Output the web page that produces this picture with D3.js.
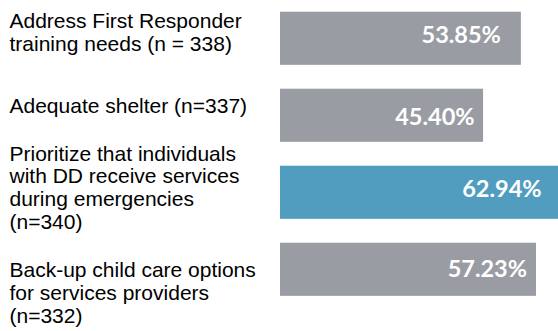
<!DOCTYPE html>
<html>
<head>
<meta charset="utf-8">
<script src="https://cdn.jsdelivr.net/npm/d3@7"></script>
<style>
  html, body { margin: 0; padding: 0; background: #fff; overflow: hidden; }
  svg { display: block; }
</style>
</head>
<body>
<svg id="chart" width="558" height="331"></svg>
<script>
// Survey priorities: share of respondents rating each item
const categories = [
  ["Address First Responder", "training needs (n = 338)"],
  ["Adequate shelter (n=337)"],
  ["Prioritize that individuals", "with DD receive services", "during emergencies", "(n=340)"],
  ["Back-up child care options", "for services providers", "(n=332)"]
];
const values = [53.85, 45.40, 62.94, 57.23];
const highlighted = [false, false, true, false];

// Layout tweaks for the hand-placed text boxes (px)
const labelShift = [-6, -10, -5, 23];
const valueInset = [20, 8.5, 20, 9];
const valueLift = [-3.3, 1, -3.8, -1];

const svg = d3.select("#chart");

const keys = categories.map((c, i) => i);

const y = d3.scaleBand()
  .domain(keys)
  .range([0.15, 307.4])
  .paddingInner(0.31)
  .paddingOuter(0.15);

const x = d3.scaleLinear()
  .domain([0, 70])
  .range([280, 280 + 70 * 4.473]);

const GRAY = "#999da3", BLUE = "#519dc0";

// Bars
svg.append("g")
  .selectAll("rect")
  .data(values)
  .join("rect")
  .attr("x", x(0))
  .attr("y", (d, i) => y(i))
  .attr("width", d => x(d) - x(0))
  .attr("height", y.bandwidth())
  .attr("fill", (d, i) => highlighted[i] ? BLUE : GRAY);

// Value labels inside bar ends
svg.append("g")
  .selectAll("text")
  .data(values)
  .join("text")
  .attr("x", (d, i) => x(d) - valueInset[i])
  .attr("y", (d, i) => y(i) + y.bandwidth() / 2 + valueLift[i])
  .attr("dy", "0.36em")
  .attr("text-anchor", "end")
  .attr("font-family", "Lato, 'Open Sans', sans-serif")
  .attr("font-weight", 700)
  .attr("font-size", 23.5)
  .attr("fill", "#ffffff")
  .text(d => d.toFixed(2) + "%");

// Category labels, multi-line, to the left of the bars
const fs = 21, lh = 22.8;
const labels = svg.append("g")
  .attr("font-family", "'Liberation Sans', Arial, sans-serif")
  .attr("font-size", fs)
  .attr("fill", "#000");

labels.selectAll("text")
  .data(categories)
  .join("text")
  .attr("x", 9.5)
  .attr("y", (lines, i) => y(i) + y.bandwidth() / 2 - (lines.length - 1) * lh / 2 + 0.358 * fs + labelShift[i])
  .each(function(lines) {
    const t = d3.select(this);
    lines.forEach((line, j) => {
      t.append("tspan")
        .attr("x", 9.5)
        .attr("dy", j === 0 ? 0 : lh)
        .text(line);
    });
  });
</script>
</body>
</html>
